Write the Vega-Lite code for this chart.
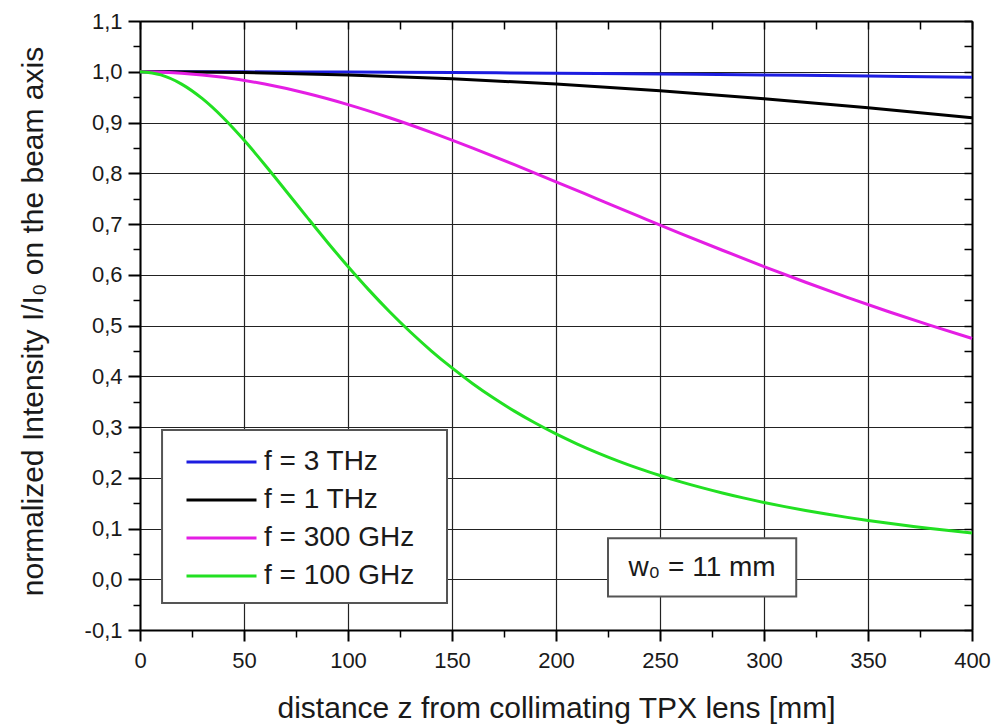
{
  "$schema": "https://vega.github.io/schema/vega-lite/v6.json",
  "width": 832,
  "height": 609,
  "autosize": {"type": "none"},
  "padding": {"left": 140, "top": 21, "right": 22, "bottom": 94},
  "background": "white",
  "config": {
    "view": {"stroke": null},
    "font": "Liberation Sans",
    "axis": {"labelFont": "Liberation Sans", "titleFont": "Liberation Sans", "labelColor": "#1a1a1a", "titleColor": "#1a1a1a", "domainColor": "#000", "tickColor": "#000", "gridColor": "#222", "gridOpacity": 1}
  },
  "datasets": {
    "curves": [
    {"z": 0, "I": 1, "f": "f = 3 THz"},
    {"z": 50, "I": 0.9998, "f": "f = 3 THz"},
    {"z": 100, "I": 0.9993, "f": "f = 3 THz"},
    {"z": 150, "I": 0.9984, "f": "f = 3 THz"},
    {"z": 200, "I": 0.9972, "f": "f = 3 THz"},
    {"z": 250, "I": 0.9957, "f": "f = 3 THz"},
    {"z": 300, "I": 0.9938, "f": "f = 3 THz"},
    {"z": 350, "I": 0.9916, "f": "f = 3 THz"},
    {"z": 400, "I": 0.9891, "f": "f = 3 THz"},
    {"z": 0, "I": 1, "f": "f = 1 THz"},
    {"z": 50, "I": 0.9984, "f": "f = 1 THz"},
    {"z": 100, "I": 0.9938, "f": "f = 1 THz"},
    {"z": 150, "I": 0.9862, "f": "f = 1 THz"},
    {"z": 200, "I": 0.9757, "f": "f = 1 THz"},
    {"z": 250, "I": 0.9625, "f": "f = 1 THz"},
    {"z": 300, "I": 0.9469, "f": "f = 1 THz"},
    {"z": 350, "I": 0.9291, "f": "f = 1 THz"},
    {"z": 400, "I": 0.9094, "f": "f = 1 THz"},
    {"z": 0, "I": 1, "f": "f = 300 GHz"},
    {"z": 20, "I": 0.9972, "f": "f = 300 GHz"},
    {"z": 40, "I": 0.9890, "f": "f = 300 GHz"},
    {"z": 60, "I": 0.9757, "f": "f = 300 GHz"},
    {"z": 80, "I": 0.9576, "f": "f = 300 GHz"},
    {"z": 100, "I": 0.9353, "f": "f = 300 GHz"},
    {"z": 120, "I": 0.9094, "f": "f = 300 GHz"},
    {"z": 140, "I": 0.8806, "f": "f = 300 GHz"},
    {"z": 160, "I": 0.8495, "f": "f = 300 GHz"},
    {"z": 180, "I": 0.8168, "f": "f = 300 GHz"},
    {"z": 200, "I": 0.7832, "f": "f = 300 GHz"},
    {"z": 220, "I": 0.7491, "f": "f = 300 GHz"},
    {"z": 240, "I": 0.7150, "f": "f = 300 GHz"},
    {"z": 260, "I": 0.6812, "f": "f = 300 GHz"},
    {"z": 280, "I": 0.6483, "f": "f = 300 GHz"},
    {"z": 300, "I": 0.6162, "f": "f = 300 GHz"},
    {"z": 320, "I": 0.5852, "f": "f = 300 GHz"},
    {"z": 340, "I": 0.5555, "f": "f = 300 GHz"},
    {"z": 360, "I": 0.5271, "f": "f = 300 GHz"},
    {"z": 380, "I": 0.5001, "f": "f = 300 GHz"},
    {"z": 400, "I": 0.4745, "f": "f = 300 GHz"},
    {"z": 0, "I": 1, "f": "f = 100 GHz"},
    {"z": 10, "I": 0.9938, "f": "f = 100 GHz"},
    {"z": 20, "I": 0.9757, "f": "f = 100 GHz"},
    {"z": 30, "I": 0.9469, "f": "f = 100 GHz"},
    {"z": 40, "I": 0.9094, "f": "f = 100 GHz"},
    {"z": 50, "I": 0.8653, "f": "f = 100 GHz"},
    {"z": 60, "I": 0.8168, "f": "f = 100 GHz"},
    {"z": 70, "I": 0.7661, "f": "f = 100 GHz"},
    {"z": 80, "I": 0.7150, "f": "f = 100 GHz"},
    {"z": 90, "I": 0.6646, "f": "f = 100 GHz"},
    {"z": 100, "I": 0.6162, "f": "f = 100 GHz"},
    {"z": 110, "I": 0.5702, "f": "f = 100 GHz"},
    {"z": 120, "I": 0.5271, "f": "f = 100 GHz"},
    {"z": 130, "I": 0.4872, "f": "f = 100 GHz"},
    {"z": 140, "I": 0.4502, "f": "f = 100 GHz"},
    {"z": 150, "I": 0.4164, "f": "f = 100 GHz"},
    {"z": 160, "I": 0.3854, "f": "f = 100 GHz"},
    {"z": 170, "I": 0.3571, "f": "f = 100 GHz"},
    {"z": 180, "I": 0.3313, "f": "f = 100 GHz"},
    {"z": 190, "I": 0.3078, "f": "f = 100 GHz"},
    {"z": 200, "I": 0.2864, "f": "f = 100 GHz"},
    {"z": 210, "I": 0.2669, "f": "f = 100 GHz"},
    {"z": 220, "I": 0.2491, "f": "f = 100 GHz"},
    {"z": 230, "I": 0.2328, "f": "f = 100 GHz"},
    {"z": 240, "I": 0.2179, "f": "f = 100 GHz"},
    {"z": 250, "I": 0.2044, "f": "f = 100 GHz"},
    {"z": 260, "I": 0.1919, "f": "f = 100 GHz"},
    {"z": 270, "I": 0.1805, "f": "f = 100 GHz"},
    {"z": 280, "I": 0.1700, "f": "f = 100 GHz"},
    {"z": 290, "I": 0.1603, "f": "f = 100 GHz"},
    {"z": 300, "I": 0.1514, "f": "f = 100 GHz"},
    {"z": 310, "I": 0.1431, "f": "f = 100 GHz"},
    {"z": 320, "I": 0.1355, "f": "f = 100 GHz"},
    {"z": 330, "I": 0.1285, "f": "f = 100 GHz"},
    {"z": 340, "I": 0.1219, "f": "f = 100 GHz"},
    {"z": 350, "I": 0.1159, "f": "f = 100 GHz"},
    {"z": 360, "I": 0.1102, "f": "f = 100 GHz"},
    {"z": 370, "I": 0.1050, "f": "f = 100 GHz"},
    {"z": 380, "I": 0.1000, "f": "f = 100 GHz"},
    {"z": 390, "I": 0.0955, "f": "f = 100 GHz"},
    {"z": 400, "I": 0.0912, "f": "f = 100 GHz"}
    ],
    "note": [{"label": "w₀ = 11 mm"}]
  },
  "resolve": {"axis": {"x": "independent", "y": "independent"}},
  "layer": [
    {
      "data": {"name": "curves"},
      "mark": {"type": "line", "strokeOpacity": 0},
      "encoding": {
        "x": {"field": "z", "type": "quantitative", "scale": {"domain": [0, 400], "nice": false, "zero": false},
          "axis": {"orient": "bottom", "values": [25, 75, 125, 175, 225, 275, 325, 375], "tickSize": 7, "tickWidth": 1.5, "labels": false, "domain": false, "grid": false, "title": null}},
        "y": {"field": "I", "type": "quantitative", "scale": {"domain": [-0.1, 1.1], "nice": false, "zero": false},
          "axis": {"orient": "left", "values": [-0.05, 0.05, 0.15, 0.25, 0.35, 0.45, 0.55, 0.65, 0.75, 0.85, 0.95, 1.05], "tickSize": 7, "tickWidth": 1.5, "labels": false, "domain": false, "grid": false, "title": null}},
        "detail": {"field": "f"}
      }
    },
    {
      "data": {"name": "curves"},
      "mark": {"type": "line", "strokeOpacity": 0},
      "encoding": {
        "x": {"field": "z", "type": "quantitative",
          "axis": {"orient": "top", "values": [0, 25, 50, 75, 100, 125, 150, 175, 200, 225, 250, 275, 300, 325, 350, 375, 400], "tickSize": -8, "tickWidth": 1.5, "labels": false, "domain": true, "domainWidth": 2, "grid": false, "title": null}},
        "y": {"field": "I", "type": "quantitative",
          "axis": {"orient": "right", "values": [-0.1, -0.05, 0, 0.05, 0.1, 0.15, 0.2, 0.25, 0.3, 0.35, 0.4, 0.45, 0.5, 0.55, 0.6, 0.65, 0.7, 0.75, 0.8, 0.85, 0.9, 0.95, 1, 1.05, 1.1], "tickSize": -8, "tickWidth": 1.5, "labels": false, "domain": true, "domainWidth": 2, "grid": false, "title": null}},
        "detail": {"field": "f"}
      }
    },
    {
      "data": {"name": "curves"},
      "mark": {"type": "line", "strokeWidth": 3, "interpolate": "monotone"},
      "encoding": {
        "x": {"field": "z", "type": "quantitative",
          "axis": {"orient": "bottom", "values": [0, 50, 100, 150, 200, 250, 300, 350, 400], "tickSize": 11, "tickWidth": 2, "domainWidth": 2, "grid": true, "gridWidth": 1.2,
            "labelFontSize": 22, "labelPadding": 9, "labelFlush": false,
            "title": "distance z from collimating TPX lens [mm]", "titleFontSize": 30, "titleFontWeight": "normal", "titleBaseline": "alphabetic", "titleY": 87}},
        "y": {"field": "I", "type": "quantitative",
          "axis": {"orient": "left", "values": [-0.1, 0, 0.1, 0.2, 0.3, 0.4, 0.5, 0.6, 0.7, 0.8, 0.9, 1, 1.1], "tickSize": 12, "tickWidth": 2, "domainWidth": 2, "grid": true, "gridWidth": 1.2,
            "labelFontSize": 22, "labelPadding": 6, "labelFlush": false,
            "labelExpr": "replace(replace(format(datum.value, '.1f'), '.', ','), '\u2212', '-')",
            "title": "normalized Intensity I/I₀ on the beam axis", "titleFontSize": 30, "titleFontWeight": "normal", "titleAngle": 270, "titleBaseline": "alphabetic", "titleX": -98, "titleY": 300, "titleAlign": "center"}},
        "color": {"field": "f", "type": "nominal",
          "scale": {"domain": ["f = 3 THz", "f = 1 THz", "f = 300 GHz", "f = 100 GHz"], "range": ["#1c1ce0", "#000000", "#e41ee4", "#22e022"]},
          "legend": {"orient": "none", "legendX": 45, "legendY": 431, "title": null, "padding": 0,
            "symbolType": "stroke", "symbolSize": 4900, "symbolStrokeWidth": 3, "clipHeight": 20, "rowPadding": 10,
            "labelFont": "Liberation Sans", "labelFontSize": 28, "labelColor": "#1a1a1a", "labelOffset": 6, "labelLimit": 400}}
      }
    },
    {
      "data": {"name": "note"},
      "mark": {"type": "rect", "fill": "white", "stroke": "#555", "strokeWidth": 2},
      "encoding": {
        "x": {"datum": 10.6, "type": "quantitative", "axis": null},
        "x2": {"datum": 147.6},
        "y": {"datum": 0.294, "type": "quantitative", "axis": null},
        "y2": {"datum": -0.047}
      }
    },
    {
      "data": {"name": "note"},
      "mark": {"type": "rect", "fill": "white", "stroke": "#555", "strokeWidth": 2},
      "encoding": {
        "x": {"datum": 225, "type": "quantitative", "axis": null},
        "x2": {"datum": 315.5},
        "y": {"datum": 0.081, "type": "quantitative", "axis": null},
        "y2": {"datum": -0.034}
      }
    },
    {
      "data": {"name": "note"},
      "mark": {"type": "text", "font": "Liberation Sans", "fontSize": 28, "fill": "#1a1a1a", "align": "center", "baseline": "alphabetic"},
      "encoding": {
        "text": {"field": "label"},
        "x": {"datum": 270.2, "type": "quantitative", "axis": null},
        "y": {"datum": 0.006, "type": "quantitative", "axis": null}
      }
    }
  ]
}
